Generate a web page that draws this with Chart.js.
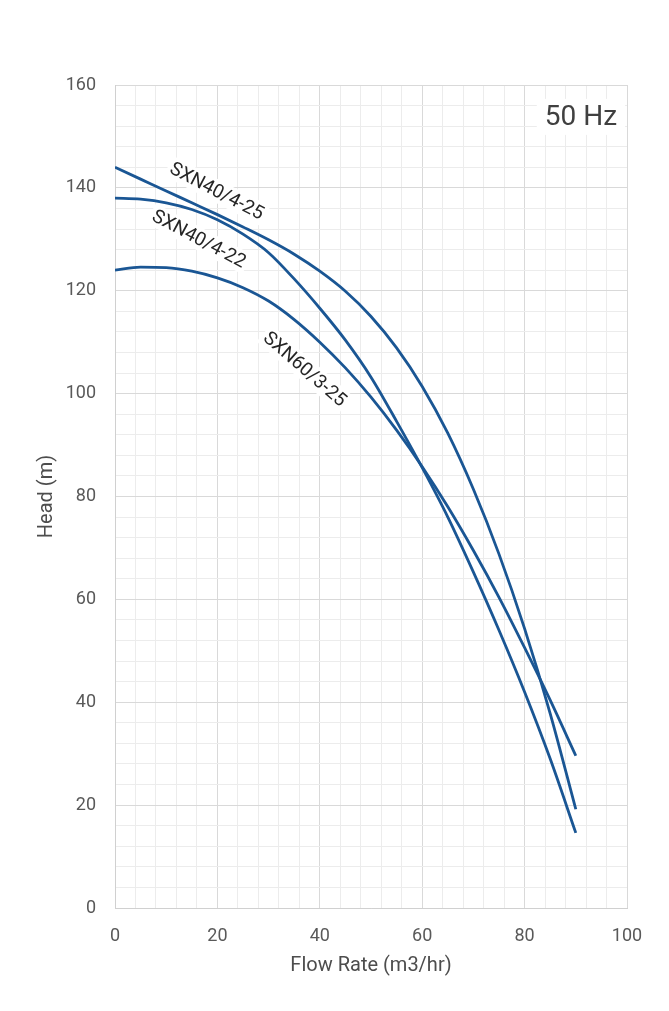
<!DOCTYPE html>
<html>
<head>
<meta charset="utf-8">
<script src="https://cdn.jsdelivr.net/npm/chart.js@4.4.1/dist/chart.umd.min.js"></script>
<style>
    html, body { margin: 0; padding: 0; background: #fff; }
    #wrap { width: 669px; height: 1011px; }
</style>
</head>
<body>
<div id="wrap"><canvas id="pump-chart"></canvas></div>
<script>
// Flow rate (m3/hr) where the curves were read
const flow = [0, 5, 10, 15, 20, 25, 30, 35, 40, 45, 50, 55, 60, 65, 70, 75, 80, 85, 90];

// Head (m) per pump
const headSXN40_4_25 = [144.0, 141.7, 139.4, 137.1, 134.8, 132.4, 129.9, 127.1, 123.8, 119.9, 115.0, 108.9, 101.4, 92.3, 81.4, 68.8, 54.3, 37.8, 19.2];
const headSXN40_4_22 = [138.0, 137.8, 137.1, 135.8, 133.8, 131.0, 127.4, 122.3, 116.6, 110.4, 103.2, 94.6, 85.6, 76.0, 65.3, 54.0, 42.0, 29.0, 14.6];
const headSXN60_3_25 = [124.0, 124.6, 124.5, 123.8, 122.5, 120.6, 118.0, 114.4, 110.0, 105.0, 99.3, 92.9, 85.8, 78.0, 69.5, 60.4, 50.6, 40.4, 29.6];

const pumpNames = ['SXN40/4-25', 'SXN40/4-22', 'SXN60/3-25'];
const freqLabel = '50 Hz';

const xTicks = [0, 20, 40, 60, 80, 100];
const yTicks = [0, 20, 40, 60, 80, 100, 120, 140, 160];

const LINE_COLOR = '#1a5694';
const FONT = 'Roboto, "Liberation Sans", sans-serif';

const toPoints = heads => flow.map((q, i) => ({ x: q, y: heads[i] }));

// Rotated curve labels and the frequency box
const labelsPlugin = {
    id: 'pumpLabels',
    beforeDatasetsDraw(chart) {
        const { ctx, scales: { x, y } } = chart;
        const spots = [
            { text: pumpNames[0], q: 19.9, h: 139.4, angle: 27.5 },
            { text: pumpNames[1], q: 16.4, h: 130.1, angle: 28 },
            { text: pumpNames[2], q: 37.1, h: 104.8, angle: 41 }
        ];
        ctx.save();
        ctx.font = '19px ' + FONT;
        ctx.textAlign = 'center';
        ctx.textBaseline = 'middle';
        spots.forEach(s => {
            ctx.save();
            ctx.translate(x.getPixelForValue(s.q), y.getPixelForValue(s.h));
            ctx.rotate(s.angle * Math.PI / 180);
            const w = ctx.measureText(s.text).width;
            ctx.fillStyle = '#fff';
            ctx.fillRect(-w / 2 - 3, -11, w + 6, 22);
            ctx.fillStyle = '#262626';
            ctx.fillText(s.text, 0, 1);
            ctx.restore();
        });

        // 50 Hz box
        ctx.font = '28px ' + FONT;
        const fx = x.getPixelForValue(91), fy = y.getPixelForValue(153.8);
        const fw = ctx.measureText(freqLabel).width;
        ctx.fillStyle = '#fff';
        ctx.fillRect(fx - fw / 2 - 8, fy - 18, fw + 16, 36);
        ctx.fillStyle = '#404040';
        ctx.fillText(freqLabel, fx, fy + 1);
        ctx.restore();
    }
};

const gridColor = c => (c.tick && c.tick.value % 20 === 0) ? '#d9d9d9' : '#ececec';
const tickText = v => (v % 20 === 0 ? String(v) : '');

new Chart(document.getElementById('pump-chart'), {
    type: 'scatter',
    data: {
        datasets: [
            { label: pumpNames[0], data: toPoints(headSXN40_4_25) },
            { label: pumpNames[1], data: toPoints(headSXN40_4_22) },
            { label: pumpNames[2], data: toPoints(headSXN60_3_25) }
        ].map(d => Object.assign(d, {
            showLine: true,
            borderColor: LINE_COLOR,
            backgroundColor: LINE_COLOR,
            borderWidth: 2.8,
            pointRadius: 0,
            cubicInterpolationMode: 'monotone',
            fill: false
        }))
    },
    options: {
        responsive: true,
        maintainAspectRatio: false,
        animation: false,
        layout: { padding: { top: 85, right: 42, left: 0, bottom: 0 } },
        plugins: {
            legend: { display: false },
            tooltip: { enabled: false }
        },
        scales: {
            x: {
                type: 'linear',
                min: xTicks[0],
                max: xTicks[xTicks.length - 1],
                afterFit: s => { s.height = 103; },
                grid: { color: gridColor, lineWidth: 1, drawTicks: false },
                border: { display: true, color: '#d0d0d0', width: 1 },
                ticks: {
                    stepSize: 4, autoSkip: false, maxRotation: 0,
                    padding: 18, color: '#595959',
                    font: { family: FONT, size: 18 },
                    callback: tickText
                },
                title: {
                    display: true, text: 'Flow Rate (m3/hr)', color: '#4d4d4d',
                    font: { family: FONT, size: 20 },
                    padding: { top: 0, bottom: 33 }
                }
            },
            y: {
                type: 'linear',
                min: yTicks[0],
                max: yTicks[yTicks.length - 1],
                afterFit: s => { s.width = 115; },
                grid: { color: gridColor, lineWidth: 1, drawTicks: false },
                border: { display: true, color: '#d0d0d0', width: 1 },
                ticks: {
                    stepSize: 4, autoSkip: false,
                    padding: 19, color: '#595959',
                    font: { family: FONT, size: 18 },
                    callback: tickText
                },
                title: {
                    display: true, text: 'Head (m)', color: '#4d4d4d',
                    font: { family: FONT, size: 20 },
                    padding: { top: 35, bottom: 0 }
                }
            }
        }
    },
    plugins: [labelsPlugin]
});
</script>
</body>
</html>
